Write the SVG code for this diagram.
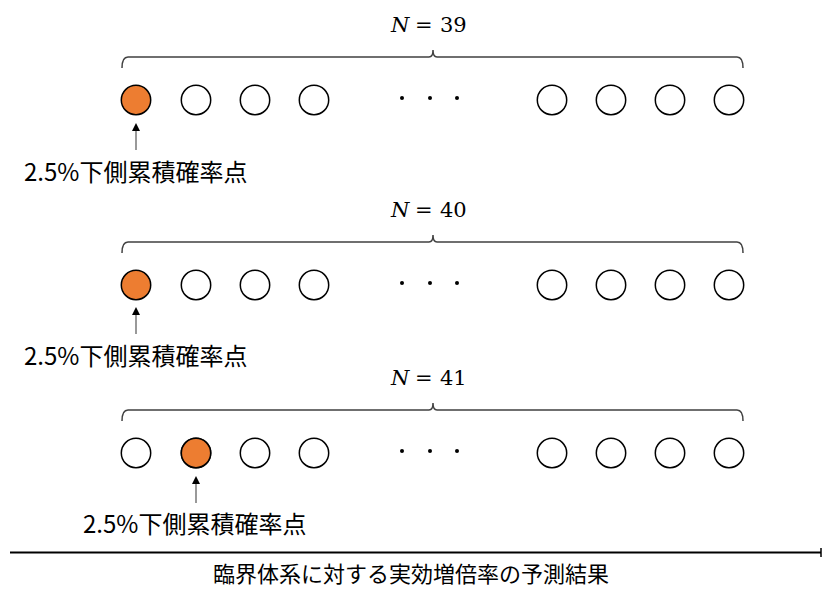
<svg xmlns="http://www.w3.org/2000/svg" width="822" height="589" viewBox="0 0 822 589">
<defs>
<style>
.c{fill:#fff;stroke:#000;stroke-width:1.5}
.o{fill:#ED7D31;stroke:#000;stroke-width:1.5}
.d{fill:#000}
.br{fill:none;stroke:#404040;stroke-width:1.5}
.ar{stroke:#555;stroke-width:1.2;fill:none}
.ah{fill:#000}
.lb{font-family:"Noto Sans CJK JP","Noto Sans",sans-serif;font-size:24px;fill:#000}
.ti{font-family:"Noto Sans CJK JP",sans-serif;font-size:22px;fill:#000}
.m{font-family:"DejaVu Serif",serif;font-size:21px;fill:#000}
</style>
<g id="row">
<path class="br" d="M122,68 Q122,57 128,57 H429 Q433,57 433,50 Q433,57 437,57 H737 Q743,57 743,68"/>
<circle class="c" cx="196" cy="100" r="14.7"/>
<circle class="c" cx="255" cy="100" r="14.7"/>
<circle class="c" cx="314" cy="100" r="14.7"/>
<circle class="d" cx="402" cy="98" r="2"/>
<circle class="d" cx="430" cy="98" r="2"/>
<circle class="d" cx="457" cy="98" r="2"/>
<circle class="c" cx="552" cy="100" r="14.7"/>
<circle class="c" cx="611" cy="100" r="14.7"/>
<circle class="c" cx="670" cy="100" r="14.7"/>
<circle class="c" cx="729" cy="100" r="14.7"/>
</g>
</defs>
<g id="row1">
<use href="#row"/>
<circle class="o" cx="136" cy="100" r="14.7"/>
<text class="m" y="32"><tspan x="391" font-style="italic">N</tspan><tspan x="415">=</tspan><tspan x="440">39</tspan></text>
<text class="lb" x="24" y="181">2.5%下側累積確率点</text>
</g>
<g id="row2" transform="translate(0,185)">
<use href="#row"/>
<circle class="o" cx="136" cy="100" r="14.7"/>
<text class="m" y="32"><tspan x="391" font-style="italic">N</tspan><tspan x="415">=</tspan><tspan x="440">40</tspan></text>
<text class="lb" x="24" y="180">2.5%下側累積確率点</text>
</g>
<g id="row3" transform="translate(0,353)">
<use href="#row"/>
<circle class="c" cx="136" cy="100" r="14.7"/>
<circle class="o" cx="196" cy="100" r="14.7"/>
<text class="m" y="32"><tspan x="391" font-style="italic">N</tspan><tspan x="415">=</tspan><tspan x="440">41</tspan></text>
<text class="lb" x="83" y="180">2.5%下側累積確率点</text>
</g>
<g id="connectors">
<line class="ar" x1="136" y1="150" x2="136" y2="130"/>
<path class="ah" d="M136,123 L132,131 L140,131 Z"/>
<line class="ar" x1="136" y1="334" x2="136" y2="314"/>
<path class="ah" d="M136,307 L132,315 L140,315 Z"/>
<line class="ar" x1="196" y1="503" x2="196" y2="483"/>
<path class="ah" d="M196,476 L192,484 L200,484 Z"/>
<line x1="10" y1="552.5" x2="821" y2="552.5" stroke="#000" stroke-width="2.2"/>
<line x1="821" y1="548" x2="821" y2="557" stroke="#000" stroke-width="1.5"/>
</g>
<text class="ti" x="411" y="582" text-anchor="middle">臨界体系に対する実効増倍率の予測結果</text>
</svg>
